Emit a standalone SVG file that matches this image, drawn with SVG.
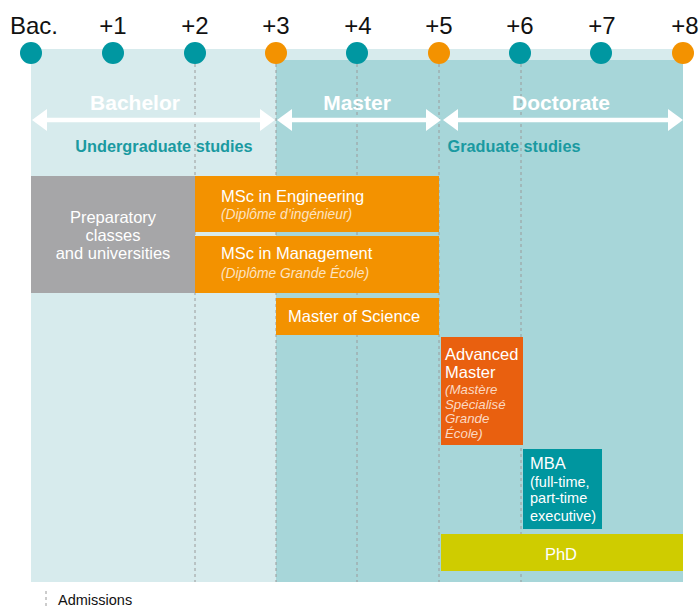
<svg xmlns="http://www.w3.org/2000/svg" width="700" height="608" viewBox="0 0 700 608">
<style>
.yr{font-family:"Liberation Sans",Arial,sans-serif;font-size:24px;fill:#111;text-anchor:middle}
.dt{fill:#0097a1}
.do{fill:#f39200}
.dash{stroke:#9a9a9a;stroke-width:1;stroke-dasharray:3 3;fill:none}
.span{font-family:"Liberation Sans",Arial,sans-serif;font-size:21px;font-weight:bold;fill:#fff;text-anchor:middle}
.sub{font-family:"Liberation Sans",Arial,sans-serif;font-size:16.3px;font-weight:bold;fill:#1a9aa1;text-anchor:middle}
.arr{stroke:#fff;stroke-width:4.5;fill:none}
.head{fill:#fff}
.t{font-family:"Liberation Sans",Arial,sans-serif;font-size:16.5px;fill:#fff}
.ti{font-family:"Liberation Sans",Arial,sans-serif;font-size:13.8px;font-style:italic;fill:#fde3c0}
.ta{font-family:"Liberation Sans",Arial,sans-serif;font-size:13.3px;font-style:italic;fill:#fbd9c2}
.tm{font-family:"Liberation Sans",Arial,sans-serif;font-size:14.5px;fill:#fff}
.c{text-anchor:middle}
</style>
<g id="background">
<rect x="31" y="49" width="652" height="533" fill="#d7ebed"/>
<rect x="276" y="60" width="407" height="522" fill="#a7d6d9"/>
</g>
<g id="gridlines">
<line class="dash" x1="195" y1="64" x2="195" y2="582"/>
<line class="dash" x1="276" y1="64" x2="276" y2="582"/>
<line class="dash" x1="357" y1="64" x2="357" y2="582"/>
<line class="dash" x1="439" y1="64" x2="439" y2="582"/>
<line class="dash" x1="521" y1="64" x2="521" y2="582"/>
</g>
<g id="timeline">
<text class="yr" x="34" y="34">Bac.</text>
<text class="yr" x="113" y="34">+1</text>
<text class="yr" x="195" y="34">+2</text>
<text class="yr" x="276" y="34">+3</text>
<text class="yr" x="358" y="34">+4</text>
<text class="yr" x="439" y="34">+5</text>
<text class="yr" x="520" y="34">+6</text>
<text class="yr" x="602" y="34">+7</text>
<text class="yr" x="685" y="34">+8</text>
<circle class="dt" cx="31" cy="53" r="11"/>
<circle class="dt" cx="113" cy="53" r="11"/>
<circle class="dt" cx="195" cy="53" r="11"/>
<circle class="do" cx="276" cy="53" r="11"/>
<circle class="dt" cx="357" cy="53" r="11"/>
<circle class="do" cx="439" cy="53" r="11"/>
<circle class="dt" cx="520" cy="53" r="11"/>
<circle class="dt" cx="601" cy="53" r="11"/>
<circle class="do" cx="683" cy="53" r="11"/>
</g>
<g id="connectors">
<line class="arr" x1="40" y1="120" x2="266" y2="120"/>
<polygon class="head" points="32,120 47,109 47,131"/>
<polygon class="head" points="275,120 260,109 260,131"/>
<line class="arr" x1="285" y1="120" x2="431" y2="120"/>
<polygon class="head" points="277,120 292,109 292,131"/>
<polygon class="head" points="441,120 426,109 426,131"/>
<line class="arr" x1="451" y1="120" x2="675" y2="120"/>
<polygon class="head" points="443,120 458,109 458,131"/>
<polygon class="head" points="683,120 668,109 668,131"/>
</g>
<g id="labels">
<text class="span" x="135" y="110">Bachelor</text>
<text class="span" x="357" y="110">Master</text>
<text class="span" x="561" y="110">Doctorate</text>
<text class="sub" x="164" y="152">Undergraduate studies</text>
<text class="sub" x="514" y="152">Graduate studies</text>
</g>
<g id="preparatory">
<rect x="31" y="176" width="164" height="117" fill="#a6a6a8"/>
<text class="t c" x="113" y="223">Preparatory</text>
<text class="t c" x="113" y="241">classes</text>
<text class="t c" x="113" y="259">and universities</text>
</g>
<g id="msc-engineering">
<rect x="195" y="176" width="244" height="56" fill="#f39200"/>
<text class="t" x="221" y="202">MSc in Engineering</text>
<text class="ti" x="221" y="219">(Diplôme d’ingénieur)</text>
</g>
<g id="msc-management">
<rect x="195" y="236" width="244" height="57" fill="#f39200"/>
<text class="t" x="221" y="259">MSc in Management</text>
<text class="ti" x="221" y="278">(Diplôme Grande École)</text>
</g>
<g id="master-of-science">
<rect x="276" y="298" width="163" height="37" fill="#f39200"/>
<text class="t" x="288" y="322">Master of Science</text>
</g>
<g id="advanced-master">
<rect x="441" y="337" width="82" height="108" fill="#e9600f"/>
<text class="t" x="445" y="360">Advanced</text>
<text class="t" x="445" y="378">Master</text>
<text class="ta" x="445" y="394">(Mastère</text>
<text class="ta" x="445" y="409">Spécialisé</text>
<text class="ta" x="445" y="423">Grande</text>
<text class="ta" x="445" y="438">École)</text>
</g>
<g id="mba">
<rect x="523" y="449" width="79" height="80" fill="#00969f"/>
<text class="t" x="530" y="469">MBA</text>
<text class="tm" x="530" y="487">(full-time,</text>
<text class="tm" x="530" y="503">part-time</text>
<text class="tm" x="530" y="521">executive)</text>
</g>
<g id="phd">
<rect x="441" y="534" width="242" height="37" fill="#cfcc00"/>
<text class="t c" x="561" y="560">PhD</text>
</g>
<g id="legend">
<line class="dash" x1="46" y1="591" x2="46" y2="607"/>
<text x="58" y="605" font-family="Liberation Sans, Arial, sans-serif" font-size="14.5" fill="#111">Admissions</text>
</g>
</svg>
